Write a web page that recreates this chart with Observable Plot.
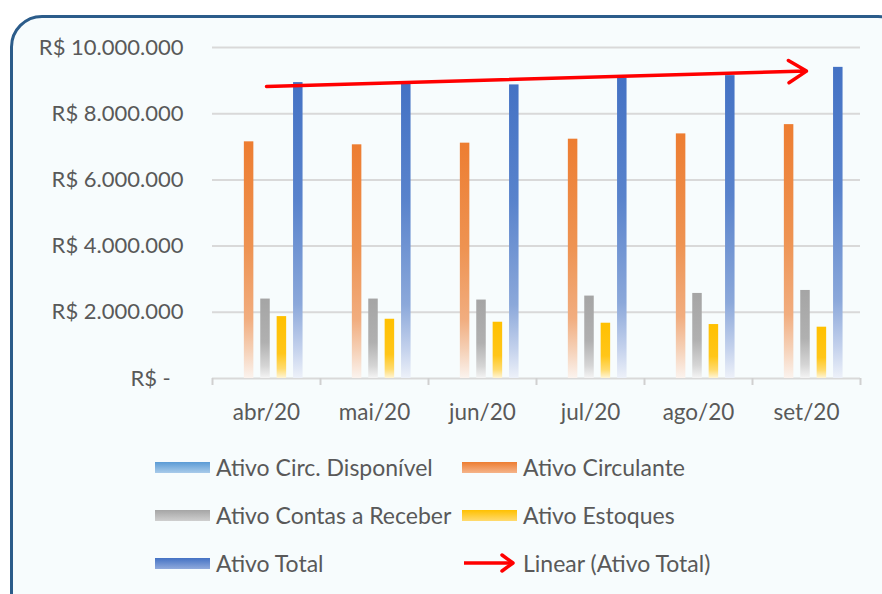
<!DOCTYPE html>
<html>
<head>
<meta charset="utf-8">
<script src="https://cdn.jsdelivr.net/npm/d3@7"></script>
<script src="https://cdn.jsdelivr.net/npm/@observablehq/plot@0.6"></script>
<style>
  html, body { margin: 0; padding: 0; background: #fff; overflow: hidden; }
  body { width: 882px; height: 594px; position: relative; font-family: Lato, "Liberation Sans", sans-serif; }
  #frame { position: absolute; left: 10px; top: 15px; width: 900px; height: 640px;
    border: 3px solid #2B5C8A; border-radius: 32px; background: #F7FCFD; box-sizing: border-box; }
  #chart { position: absolute; left: 0; top: 0; }
  #legend { position: absolute; left: 0; top: 443px; width: 882px; }
  .row { position: absolute; height: 48px; display: flex; align-items: center; font-size: 23px; color: #595959; }
  .sw { width: 55px; height: 11px; margin-right: 6px; }
</style>
</head>
<body>
<div id="frame"></div>
<div id="chart"></div>
<div id="legend"></div>
<script>
const months = ["abr/20", "mai/20", "jun/20", "jul/20", "ago/20", "set/20"];
const disponivel = [0, 0, 0, 0, 0, 0];
const circulante = [7150000, 7060000, 7110000, 7230000, 7390000, 7670000];
const contasReceber = [2400000, 2400000, 2370000, 2490000, 2570000, 2660000];
const estoques = [1870000, 1790000, 1700000, 1670000, 1630000, 1550000];
const ativoTotal = [8940000, 8900000, 8870000, 9070000, 9150000, 9400000];
const yTicks = [0, 2000000, 4000000, 6000000, 8000000, 10000000];
const seriesNames = ["Ativo Circ. Disponível", "Ativo Circulante", "Ativo Contas a Receber", "Ativo Estoques", "Ativo Total"];
const trendName = "Linear (Ativo Total)";

const table = months.map((m, i) => ({
  month: m, disponivel: disponivel[i], circulante: circulante[i],
  contas: contasReceber[i], estoques: estoques[i], total: ativoTotal[i]
}));

// linear trendline of Ativo Total (least squares over month index)
const n = ativoTotal.length;
const mx = (n - 1) / 2;
const my = d3.mean(ativoTotal);
let sxy = 0, sxx = 0;
ativoTotal.forEach((v, i) => { sxy += (i - mx) * (v - my); sxx += (i - mx) ** 2; });
const slope = sxy / sxx;
const trend = [{x1: months[0], x2: months[n - 1], y1: my - slope * mx, y2: my + slope * (n - 1 - mx)}];

const W = 882, ML = 212, MR = 22;
const band = (W - ML - MR) / months.length;
const barW = 9.5, gap = 16.4, center = -1;
const insetB = (band - barW) / 2;
const keys = ["disponivel", "circulante", "contas", "estoques", "total"];
const grads = [
  {id: "gDisp", stops: [[0, "#5B9BD5"], [0.6, "#7FB0E0"], [1, "#EAF2FA"]]},
  {id: "gOrange", stops: [[0, "#ED7D31"], [0.45, "#EE9352"], [0.75, "#F1AD7F"], [0.88, "#F5D0B6"], [1, "#FBF3EE"]]},
  {id: "gGray", stops: [[0, "#A5A5A5"], [0.55, "#B0B0B0"], [0.85, "#D5D5D5"], [1, "#F4F4F4"]]},
  {id: "gYellow", stops: [[0, "#FFC000"], [0.6, "#FFC619"], [0.85, "#FFDB6E"], [1, "#FFF5D6"]]},
  {id: "gBlue", stops: [[0, "#4472C4"], [0.4, "#5983CC"], [0.75, "#8BA8DA"], [0.9, "#C3D1EC"], [1, "#EDF1F9"]]}
];

function defsMark() {
  const defs = d3.create("svg:defs");
  for (const g of grads) {
    const lg = defs.append("linearGradient").attr("id", g.id).attr("x1", 0).attr("y1", 0).attr("x2", 0).attr("y2", 1);
    for (const [o, c] of g.stops) lg.append("stop").attr("offset", o).attr("stop-color", c);
  }
  return defs.node();
}

const fmt = d => d === 0 ? "R$ -\u2007" : "R$ " + d3.format(",")(d).replace(/,/g, ".");

const chart = Plot.plot({
  width: W, height: 438,
  marginLeft: ML, marginRight: MR, marginTop: 47, marginBottom: 60,
  style: {background: "transparent", fontFamily: "Lato, 'Liberation Sans', sans-serif", color: "#595959"},
  x: {domain: months, padding: 0},
  y: {domain: [0, 10000000]},
  marks: [
    defsMark,
    Plot.ruleY(yTicks, {stroke: "#D9D9D9", strokeWidth: 2}),
    Plot.ruleX(months, {x: d => d, y1: 0, y2: 0, dx: -band / 2, insetBottom: -7, stroke: "#D0D0D0", strokeWidth: 2}),
    Plot.ruleX([months[n - 1]], {x: d => d, y1: 0, y2: 0, dx: band / 2, insetBottom: -7, stroke: "#D0D0D0", strokeWidth: 2}),
    ...keys.map((k, j) => Plot.barY(table, {
      x: "month", y: k, fill: `url(#${grads[j].id})`,
      insetLeft: insetB, insetRight: insetB, dx: center + (j - 2) * gap
    })),
    Plot.arrow(trend, {x1: "x1", y1: "y1", x2: "x2", y2: "y2", stroke: "#FF0000", strokeWidth: 3.5, headLength: 9, headAngle: 64, bend: 0}),
    Plot.axisY({ticks: yTicks, tickFormat: fmt, tickSize: 0, tickPadding: 29, fontSize: 22, label: null, fill: "#595959"}),
    Plot.axisX({tickSize: 0, tickPadding: 26, fontSize: 22.5, label: null, fill: "#595959"})
  ]
});
document.getElementById("chart").appendChild(chart);

// legend
const swatch = [
  "linear-gradient(#5B9BD5, #A9CBEA)", "linear-gradient(#ED7D31, #F5B48A)",
  "linear-gradient(#A5A5A5, #CFCFCF)", "linear-gradient(#FFC000, #FFDB70)",
  "linear-gradient(#4472C4, #90AADC)"
];
const legend = document.getElementById("legend");
const pos = [[155, 0], [462, 0], [155, 48], [462, 48], [155, 96]];
seriesNames.forEach((name, i) => {
  const r = document.createElement("div");
  r.className = "row";
  r.style.left = pos[i][0] + "px"; r.style.top = pos[i][1] + "px";
  r.innerHTML = `<div class="sw" style="background:${swatch[i]}"></div><span>${name}</span>`;
  legend.appendChild(r);
});
const tr = document.createElement("div");
tr.className = "row";
tr.style.left = "462px"; tr.style.top = "96px";
tr.innerHTML = `<svg width="55" height="24" style="margin-right:6px"><line x1="2" y1="12" x2="50" y2="12" stroke="#FF0000" stroke-width="3.5"/><path d="M40,4 L51,12 L40,20" fill="none" stroke="#FF0000" stroke-width="3.5" stroke-linecap="round" stroke-linejoin="round"/></svg><span>${trendName}</span>`;
legend.appendChild(tr);
</script>
</body>
</html>
